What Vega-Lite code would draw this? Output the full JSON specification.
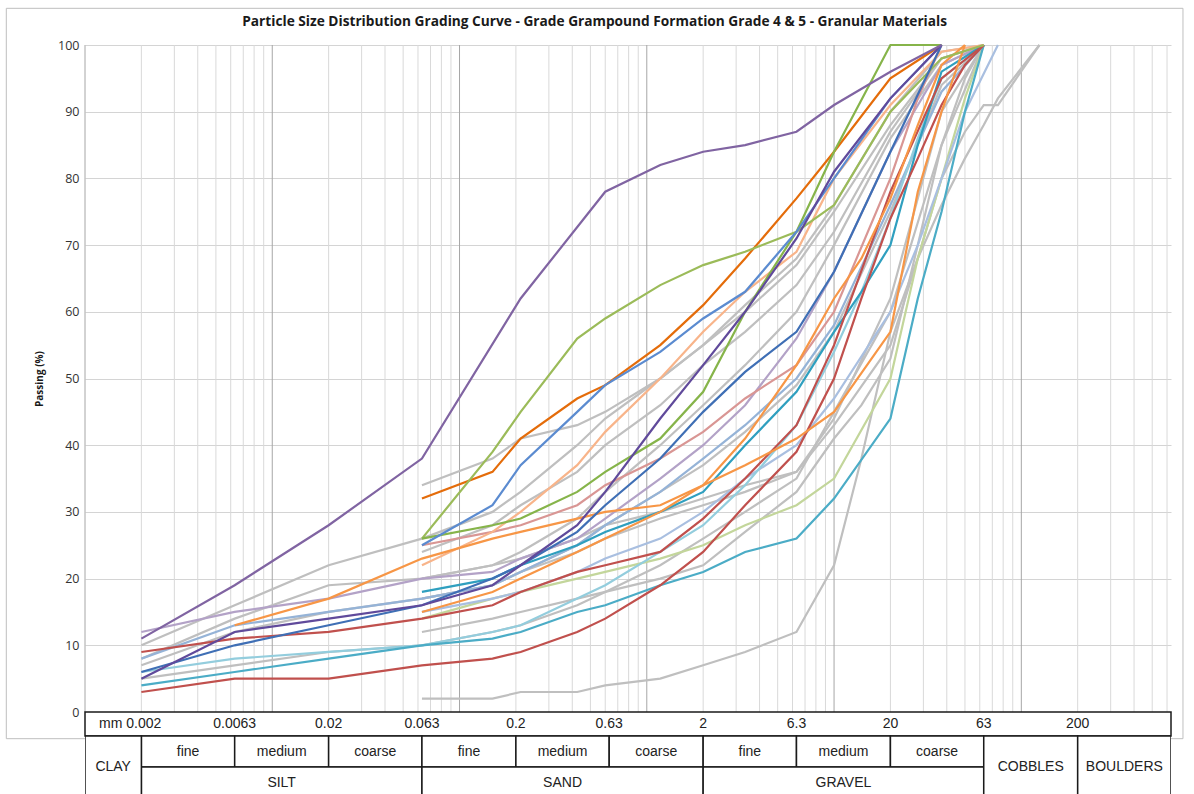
{
"$schema":"https://vega.github.io/schema/vega-lite/v6.json",
"padding":{"left":5,"top":7,"right":0,"bottom":0},
"bounds":"flush",
"spacing":0,
"config":{"view":{"stroke":null},"font":"Open Sans"},
"title":{"text":"Particle Size Distribution Grading Curve - Grade Grampound Formation Grade 4 & 5 - Granular Materials","font":"Open Sans","fontSize":13.7,"fontWeight":"bold","color":"#1a1a1a","anchor":"middle","offset":-21},
"datasets":{
"gridMajor":[{"v":0.001},{"v":0.01},{"v":0.1},{"v":1},{"v":10},{"v":100}],
"gridMinor":[{"v":0.002},{"v":0.003},{"v":0.004},{"v":0.005},{"v":0.006},{"v":0.007},{"v":0.008},{"v":0.009},{"v":0.02},{"v":0.03},{"v":0.04},{"v":0.05},{"v":0.06},{"v":0.07},{"v":0.08},{"v":0.09},{"v":0.2},{"v":0.3},{"v":0.4},{"v":0.5},{"v":0.6},{"v":0.7},{"v":0.8},{"v":0.9},{"v":2},{"v":3},{"v":4},{"v":5},{"v":6},{"v":7},{"v":8},{"v":9},{"v":20},{"v":30},{"v":40},{"v":50},{"v":60},{"v":70},{"v":80},{"v":90},{"v":200},{"v":300},{"v":400},{"v":500},{"v":600}],
"cells":[
{"lo":0.001,"hi":0.002,"lvl":"span","label":"CLAY"},
{"lo":0.002,"hi":0.0063,"lvl":"sub","label":"fine"},
{"lo":0.0063,"hi":0.02,"lvl":"sub","label":"medium"},
{"lo":0.02,"hi":0.063,"lvl":"sub","label":"coarse"},
{"lo":0.063,"hi":0.2,"lvl":"sub","label":"fine"},
{"lo":0.2,"hi":0.63,"lvl":"sub","label":"medium"},
{"lo":0.63,"hi":2,"lvl":"sub","label":"coarse"},
{"lo":2,"hi":6.3,"lvl":"sub","label":"fine"},
{"lo":6.3,"hi":20,"lvl":"sub","label":"medium"},
{"lo":20,"hi":63,"lvl":"sub","label":"coarse"},
{"lo":0.002,"hi":0.063,"lvl":"main","label":"SILT"},
{"lo":0.063,"hi":2,"lvl":"main","label":"SAND"},
{"lo":2,"hi":63,"lvl":"main","label":"GRAVEL"},
{"lo":63,"hi":200,"lvl":"span","label":"COBBLES"},
{"lo":200,"hi":630,"lvl":"span","label":"BOULDERS"}],
"ticks":[{"d":0.0063,"label":"0.0063"},{"d":0.02,"label":"0.02"},{"d":0.063,"label":"0.063"},{"d":0.2,"label":"0.2"},{"d":0.63,"label":"0.63"},{"d":2,"label":"2"},{"d":6.3,"label":"6.3"},{"d":20,"label":"20"},{"d":63,"label":"63"},{"d":200,"label":"200"}],
"psd":[
{"s":"S01","d":0.002,"p":10},{"s":"S01","d":0.0063,"p":16},{"s":"S01","d":0.02,"p":22},{"s":"S01","d":0.063,"p":26},{"s":"S01","d":0.15,"p":30},{"s":"S01","d":0.212,"p":33},{"s":"S01","d":0.425,"p":40},{"s":"S01","d":0.6,"p":44},{"s":"S01","d":1.18,"p":50},{"s":"S01","d":2,"p":55},{"s":"S01","d":3.35,"p":60},{"s":"S01","d":6.3,"p":67},{"s":"S01","d":10,"p":75},{"s":"S01","d":20,"p":88},{"s":"S01","d":37.5,"p":98},{"s":"S01","d":63,"p":100},
{"s":"S02","d":0.002,"p":8},{"s":"S02","d":0.0063,"p":14},{"s":"S02","d":0.02,"p":19},{"s":"S02","d":0.063,"p":20},{"s":"S02","d":0.15,"p":22},{"s":"S02","d":0.212,"p":24},{"s":"S02","d":0.425,"p":29},{"s":"S02","d":0.6,"p":33},{"s":"S02","d":1.18,"p":40},{"s":"S02","d":2,"p":46},{"s":"S02","d":3.35,"p":52},{"s":"S02","d":6.3,"p":60},{"s":"S02","d":10,"p":70},{"s":"S02","d":20,"p":86},{"s":"S02","d":37.5,"p":97},{"s":"S02","d":63,"p":100},
{"s":"S03","d":0.002,"p":7},{"s":"S03","d":0.0063,"p":12},{"s":"S03","d":0.02,"p":15},{"s":"S03","d":0.063,"p":17},{"s":"S03","d":0.15,"p":19},{"s":"S03","d":0.212,"p":21},{"s":"S03","d":0.425,"p":25},{"s":"S03","d":0.6,"p":28},{"s":"S03","d":1.18,"p":33},{"s":"S03","d":2,"p":37},{"s":"S03","d":3.35,"p":42},{"s":"S03","d":6.3,"p":49},{"s":"S03","d":10,"p":57},{"s":"S03","d":20,"p":75},{"s":"S03","d":37.5,"p":94},{"s":"S03","d":63,"p":100},
{"s":"S04","d":0.002,"p":5},{"s":"S04","d":0.0063,"p":7},{"s":"S04","d":0.02,"p":9},{"s":"S04","d":0.063,"p":10},{"s":"S04","d":0.15,"p":12},{"s":"S04","d":0.212,"p":13},{"s":"S04","d":0.425,"p":16},{"s":"S04","d":0.6,"p":18},{"s":"S04","d":1.18,"p":22},{"s":"S04","d":2,"p":26},{"s":"S04","d":3.35,"p":30},{"s":"S04","d":6.3,"p":35},{"s":"S04","d":10,"p":45},{"s":"S04","d":20,"p":60},{"s":"S04","d":37.5,"p":85},{"s":"S04","d":63,"p":100},
{"s":"S05","d":0.063,"p":34},{"s":"S05","d":0.15,"p":38},{"s":"S05","d":0.212,"p":41},{"s":"S05","d":0.425,"p":43},{"s":"S05","d":0.6,"p":45},{"s":"S05","d":1.18,"p":50},{"s":"S05","d":2,"p":55},{"s":"S05","d":3.35,"p":61},{"s":"S05","d":6.3,"p":68},{"s":"S05","d":10,"p":76},{"s":"S05","d":20,"p":90},{"s":"S05","d":37.5,"p":99},{"s":"S05","d":63,"p":100},
{"s":"S06","d":0.063,"p":24},{"s":"S06","d":0.15,"p":28},{"s":"S06","d":0.212,"p":31},{"s":"S06","d":0.425,"p":36},{"s":"S06","d":0.6,"p":40},{"s":"S06","d":1.18,"p":46},{"s":"S06","d":2,"p":52},{"s":"S06","d":3.35,"p":57},{"s":"S06","d":6.3,"p":64},{"s":"S06","d":10,"p":72},{"s":"S06","d":20,"p":87},{"s":"S06","d":37.5,"p":98},{"s":"S06","d":63,"p":100},
{"s":"S07","d":0.063,"p":12},{"s":"S07","d":0.15,"p":14},{"s":"S07","d":0.212,"p":15},{"s":"S07","d":0.425,"p":17},{"s":"S07","d":0.6,"p":18},{"s":"S07","d":1.18,"p":20},{"s":"S07","d":2,"p":22},{"s":"S07","d":3.35,"p":27},{"s":"S07","d":6.3,"p":33},{"s":"S07","d":10,"p":41},{"s":"S07","d":14,"p":46},{"s":"S07","d":20,"p":53},{"s":"S07","d":28,"p":70},{"s":"S07","d":37.5,"p":85},{"s":"S07","d":50,"p":95},{"s":"S07","d":63,"p":100},
{"s":"S08","d":0.063,"p":17},{"s":"S08","d":0.15,"p":19},{"s":"S08","d":0.212,"p":21},{"s":"S08","d":0.425,"p":24},{"s":"S08","d":0.6,"p":26},{"s":"S08","d":1.18,"p":29},{"s":"S08","d":2,"p":31},{"s":"S08","d":3.35,"p":33},{"s":"S08","d":6.3,"p":36},{"s":"S08","d":10,"p":44},{"s":"S08","d":20,"p":62},{"s":"S08","d":37.5,"p":90},{"s":"S08","d":63,"p":100},
{"s":"S09","d":0.063,"p":2},{"s":"S09","d":0.15,"p":2},{"s":"S09","d":0.212,"p":3},{"s":"S09","d":0.425,"p":3},{"s":"S09","d":0.6,"p":4},{"s":"S09","d":1.18,"p":5},{"s":"S09","d":2,"p":7},{"s":"S09","d":3.35,"p":9},{"s":"S09","d":6.3,"p":12},{"s":"S09","d":10,"p":22},{"s":"S09","d":14,"p":38},{"s":"S09","d":20,"p":57},{"s":"S09","d":28,"p":68},{"s":"S09","d":37.5,"p":76},{"s":"S09","d":50,"p":83},{"s":"S09","d":63,"p":88},{"s":"S09","d":75,"p":92},{"s":"S09","d":125,"p":100},
{"s":"S10","d":0.063,"p":20},{"s":"S10","d":0.15,"p":22},{"s":"S10","d":0.212,"p":23},{"s":"S10","d":0.425,"p":26},{"s":"S10","d":0.6,"p":28},{"s":"S10","d":1.18,"p":30},{"s":"S10","d":2,"p":32},{"s":"S10","d":3.35,"p":34},{"s":"S10","d":6.3,"p":36},{"s":"S10","d":10,"p":43},{"s":"S10","d":20,"p":55},{"s":"S10","d":28,"p":68},{"s":"S10","d":37.5,"p":80},{"s":"S10","d":50,"p":87},{"s":"S10","d":63,"p":91},{"s":"S10","d":75,"p":91},{"s":"S10","d":125,"p":100},
{"s":"S11","d":0.063,"p":14},{"s":"S11","d":0.15,"p":17},{"s":"S11","d":0.212,"p":18},{"s":"S11","d":0.425,"p":20},{"s":"S11","d":0.6,"p":21},{"s":"S11","d":1.18,"p":23},{"s":"S11","d":2,"p":25},{"s":"S11","d":3.35,"p":28},{"s":"S11","d":6.3,"p":31},{"s":"S11","d":10,"p":35},{"s":"S11","d":20,"p":50},{"s":"S11","d":28,"p":68},{"s":"S11","d":37.5,"p":80},{"s":"S11","d":50,"p":92},{"s":"S11","d":63,"p":100},
{"s":"S12","d":0.063,"p":15},{"s":"S12","d":0.15,"p":17},{"s":"S12","d":0.212,"p":18},{"s":"S12","d":0.425,"p":21},{"s":"S12","d":0.6,"p":23},{"s":"S12","d":1.18,"p":26},{"s":"S12","d":2,"p":30},{"s":"S12","d":3.35,"p":35},{"s":"S12","d":6.3,"p":40},{"s":"S12","d":10,"p":47},{"s":"S12","d":20,"p":60},{"s":"S12","d":28,"p":70},{"s":"S12","d":37.5,"p":80},{"s":"S12","d":50,"p":90},{"s":"S12","d":75,"p":100},
{"s":"S13","d":0.002,"p":8},{"s":"S13","d":0.0063,"p":13},{"s":"S13","d":0.02,"p":15},{"s":"S13","d":0.063,"p":17},{"s":"S13","d":0.15,"p":19},{"s":"S13","d":0.212,"p":21},{"s":"S13","d":0.425,"p":25},{"s":"S13","d":0.6,"p":28},{"s":"S13","d":1.18,"p":33},{"s":"S13","d":2,"p":38},{"s":"S13","d":3.35,"p":43},{"s":"S13","d":6.3,"p":50},{"s":"S13","d":10,"p":58},{"s":"S13","d":20,"p":76},{"s":"S13","d":37.5,"p":93},{"s":"S13","d":63,"p":100},
{"s":"S14","d":0.002,"p":12},{"s":"S14","d":0.0063,"p":15},{"s":"S14","d":0.02,"p":17},{"s":"S14","d":0.063,"p":20},{"s":"S14","d":0.15,"p":21},{"s":"S14","d":0.212,"p":23},{"s":"S14","d":0.425,"p":26},{"s":"S14","d":0.6,"p":29},{"s":"S14","d":1.18,"p":35},{"s":"S14","d":2,"p":40},{"s":"S14","d":3.35,"p":46},{"s":"S14","d":6.3,"p":56},{"s":"S14","d":10,"p":66},{"s":"S14","d":20,"p":84},{"s":"S14","d":37.5,"p":97},{"s":"S14","d":63,"p":100},
{"s":"S15","d":0.063,"p":25},{"s":"S15","d":0.15,"p":27},{"s":"S15","d":0.212,"p":28},{"s":"S15","d":0.425,"p":31},{"s":"S15","d":0.6,"p":34},{"s":"S15","d":1.18,"p":38},{"s":"S15","d":2,"p":42},{"s":"S15","d":3.35,"p":47},{"s":"S15","d":6.3,"p":52},{"s":"S15","d":10,"p":60},{"s":"S15","d":20,"p":80},{"s":"S15","d":28,"p":92},{"s":"S15","d":37.5,"p":100},
{"s":"S16","d":0.002,"p":6},{"s":"S16","d":0.0063,"p":8},{"s":"S16","d":0.02,"p":9},{"s":"S16","d":0.063,"p":10},{"s":"S16","d":0.15,"p":12},{"s":"S16","d":0.212,"p":13},{"s":"S16","d":0.425,"p":17},{"s":"S16","d":0.6,"p":19},{"s":"S16","d":1.18,"p":24},{"s":"S16","d":2,"p":28},{"s":"S16","d":3.35,"p":34},{"s":"S16","d":6.3,"p":43},{"s":"S16","d":10,"p":54},{"s":"S16","d":14,"p":63},{"s":"S16","d":20,"p":74},{"s":"S16","d":28,"p":86},{"s":"S16","d":37.5,"p":95},{"s":"S16","d":63,"p":100},
{"s":"S17","d":0.002,"p":4},{"s":"S17","d":0.0063,"p":6},{"s":"S17","d":0.02,"p":8},{"s":"S17","d":0.063,"p":10},{"s":"S17","d":0.15,"p":11},{"s":"S17","d":0.212,"p":12},{"s":"S17","d":0.425,"p":15},{"s":"S17","d":0.6,"p":16},{"s":"S17","d":1.18,"p":19},{"s":"S17","d":2,"p":21},{"s":"S17","d":3.35,"p":24},{"s":"S17","d":6.3,"p":26},{"s":"S17","d":10,"p":32},{"s":"S17","d":20,"p":44},{"s":"S17","d":28,"p":62},{"s":"S17","d":37.5,"p":75},{"s":"S17","d":50,"p":90},{"s":"S17","d":63,"p":100},
{"s":"S18","d":0.063,"p":18},{"s":"S18","d":0.15,"p":20},{"s":"S18","d":0.212,"p":22},{"s":"S18","d":0.425,"p":25},{"s":"S18","d":0.6,"p":27},{"s":"S18","d":1.18,"p":30},{"s":"S18","d":2,"p":33},{"s":"S18","d":3.35,"p":40},{"s":"S18","d":6.3,"p":48},{"s":"S18","d":10,"p":57},{"s":"S18","d":14,"p":63},{"s":"S18","d":20,"p":70},{"s":"S18","d":28,"p":85},{"s":"S18","d":37.5,"p":96},{"s":"S18","d":63,"p":100},
{"s":"S19","d":0.002,"p":3},{"s":"S19","d":0.0063,"p":5},{"s":"S19","d":0.02,"p":5},{"s":"S19","d":0.063,"p":7},{"s":"S19","d":0.15,"p":8},{"s":"S19","d":0.212,"p":9},{"s":"S19","d":0.425,"p":12},{"s":"S19","d":0.6,"p":14},{"s":"S19","d":1.18,"p":19},{"s":"S19","d":2,"p":24},{"s":"S19","d":3.35,"p":31},{"s":"S19","d":6.3,"p":39},{"s":"S19","d":10,"p":50},{"s":"S19","d":14,"p":62},{"s":"S19","d":20,"p":74},{"s":"S19","d":28,"p":83},{"s":"S19","d":37.5,"p":91},{"s":"S19","d":50,"p":97},{"s":"S19","d":63,"p":100},
{"s":"S20","d":0.002,"p":9},{"s":"S20","d":0.0063,"p":11},{"s":"S20","d":0.02,"p":12},{"s":"S20","d":0.063,"p":14},{"s":"S20","d":0.15,"p":16},{"s":"S20","d":0.212,"p":18},{"s":"S20","d":0.425,"p":21},{"s":"S20","d":0.6,"p":22},{"s":"S20","d":1.18,"p":24},{"s":"S20","d":2,"p":29},{"s":"S20","d":3.35,"p":35},{"s":"S20","d":6.3,"p":43},{"s":"S20","d":10,"p":55},{"s":"S20","d":20,"p":78},{"s":"S20","d":37.5,"p":95},{"s":"S20","d":63,"p":100},
{"s":"S21","d":0.063,"p":22},{"s":"S21","d":0.15,"p":27},{"s":"S21","d":0.212,"p":30},{"s":"S21","d":0.425,"p":37},{"s":"S21","d":0.6,"p":42},{"s":"S21","d":1.18,"p":50},{"s":"S21","d":2,"p":57},{"s":"S21","d":3.35,"p":63},{"s":"S21","d":6.3,"p":69},{"s":"S21","d":10,"p":80},{"s":"S21","d":20,"p":91},{"s":"S21","d":37.5,"p":99},{"s":"S21","d":63,"p":100},
{"s":"S22","d":0.0063,"p":13},{"s":"S22","d":0.02,"p":17},{"s":"S22","d":0.063,"p":23},{"s":"S22","d":0.15,"p":26},{"s":"S22","d":0.212,"p":27},{"s":"S22","d":0.425,"p":29},{"s":"S22","d":0.6,"p":30},{"s":"S22","d":1.18,"p":31},{"s":"S22","d":2,"p":34},{"s":"S22","d":3.35,"p":37},{"s":"S22","d":6.3,"p":41},{"s":"S22","d":10,"p":45},{"s":"S22","d":20,"p":57},{"s":"S22","d":28,"p":78},{"s":"S22","d":37.5,"p":90},{"s":"S22","d":50,"p":100},
{"s":"S23","d":0.063,"p":15},{"s":"S23","d":0.15,"p":18},{"s":"S23","d":0.212,"p":20},{"s":"S23","d":0.425,"p":24},{"s":"S23","d":0.6,"p":26},{"s":"S23","d":1.18,"p":30},{"s":"S23","d":2,"p":34},{"s":"S23","d":3.35,"p":41},{"s":"S23","d":6.3,"p":52},{"s":"S23","d":10,"p":62},{"s":"S23","d":14,"p":68},{"s":"S23","d":20,"p":77},{"s":"S23","d":28,"p":88},{"s":"S23","d":37.5,"p":97},{"s":"S23","d":50,"p":100},
{"s":"S24","d":0.063,"p":32},{"s":"S24","d":0.15,"p":36},{"s":"S24","d":0.212,"p":41},{"s":"S24","d":0.425,"p":47},{"s":"S24","d":0.6,"p":49},{"s":"S24","d":1.18,"p":55},{"s":"S24","d":2,"p":61},{"s":"S24","d":3.35,"p":68},{"s":"S24","d":6.3,"p":77},{"s":"S24","d":10,"p":84},{"s":"S24","d":20,"p":95},{"s":"S24","d":37.5,"p":100},
{"s":"S25","d":0.063,"p":26},{"s":"S25","d":0.15,"p":39},{"s":"S25","d":0.212,"p":45},{"s":"S25","d":0.425,"p":56},{"s":"S25","d":0.6,"p":59},{"s":"S25","d":1.18,"p":64},{"s":"S25","d":2,"p":67},{"s":"S25","d":3.35,"p":69},{"s":"S25","d":6.3,"p":72},{"s":"S25","d":10,"p":76},{"s":"S25","d":20,"p":90},{"s":"S25","d":37.5,"p":98},{"s":"S25","d":63,"p":100},
{"s":"S26","d":0.063,"p":26},{"s":"S26","d":0.15,"p":28},{"s":"S26","d":0.212,"p":29},{"s":"S26","d":0.425,"p":33},{"s":"S26","d":0.6,"p":36},{"s":"S26","d":1.18,"p":41},{"s":"S26","d":2,"p":48},{"s":"S26","d":3.35,"p":60},{"s":"S26","d":6.3,"p":72},{"s":"S26","d":10,"p":84},{"s":"S26","d":20,"p":100},{"s":"S26","d":37.5,"p":100},
{"s":"S27","d":0.002,"p":6},{"s":"S27","d":0.0063,"p":10},{"s":"S27","d":0.02,"p":13},{"s":"S27","d":0.063,"p":16},{"s":"S27","d":0.15,"p":20},{"s":"S27","d":0.212,"p":22},{"s":"S27","d":0.425,"p":27},{"s":"S27","d":0.6,"p":31},{"s":"S27","d":1.18,"p":38},{"s":"S27","d":2,"p":45},{"s":"S27","d":3.35,"p":51},{"s":"S27","d":6.3,"p":57},{"s":"S27","d":10,"p":66},{"s":"S27","d":20,"p":84},{"s":"S27","d":37.5,"p":100},
{"s":"S28","d":0.063,"p":25},{"s":"S28","d":0.15,"p":31},{"s":"S28","d":0.212,"p":37},{"s":"S28","d":0.425,"p":45},{"s":"S28","d":0.6,"p":49},{"s":"S28","d":1.18,"p":54},{"s":"S28","d":2,"p":59},{"s":"S28","d":3.35,"p":63},{"s":"S28","d":6.3,"p":72},{"s":"S28","d":10,"p":80},{"s":"S28","d":20,"p":92},{"s":"S28","d":37.5,"p":100},
{"s":"S29","d":0.002,"p":5},{"s":"S29","d":0.0063,"p":12},{"s":"S29","d":0.02,"p":14},{"s":"S29","d":0.063,"p":16},{"s":"S29","d":0.15,"p":19},{"s":"S29","d":0.212,"p":22},{"s":"S29","d":0.425,"p":28},{"s":"S29","d":0.6,"p":33},{"s":"S29","d":1.18,"p":44},{"s":"S29","d":2,"p":52},{"s":"S29","d":3.35,"p":60},{"s":"S29","d":6.3,"p":71},{"s":"S29","d":10,"p":81},{"s":"S29","d":20,"p":92},{"s":"S29","d":37.5,"p":100},
{"s":"S30","d":0.002,"p":11},{"s":"S30","d":0.0063,"p":19},{"s":"S30","d":0.02,"p":28},{"s":"S30","d":0.063,"p":38},{"s":"S30","d":0.212,"p":62},{"s":"S30","d":0.6,"p":78},{"s":"S30","d":1.18,"p":82},{"s":"S30","d":2,"p":84},{"s":"S30","d":3.35,"p":85},{"s":"S30","d":6.3,"p":87},{"s":"S30","d":10,"p":91},{"s":"S30","d":20,"p":96},{"s":"S30","d":37.5,"p":100}
]},
"vconcat":[
{"width":1086,"height":667,
"layer":[
{"data":{"values":[{}]},"mark":{"type":"rect","fill":null,"stroke":"#BFBFBF","strokeWidth":1,"clip":false},
 "encoding":{"x":{"datum":0.00038,"type":"quantitative","scale":{"type":"log","domain":[0.001,630],"nice":false},"axis":null},"x2":{"datum":730},"y":{"datum":105.5,"type":"quantitative"},"y2":{"datum":-4}}},
{"data":{"name":"gridMinor"},"mark":{"type":"rule","stroke":"#D9D9D9","strokeWidth":1},"encoding":{"x":{"field":"v","type":"quantitative"}}},
{"data":{"name":"gridMajor"},"mark":{"type":"rule","stroke":"#A6A6A6","strokeWidth":1},"encoding":{"x":{"field":"v","type":"quantitative"}}},
{"data":{"name":"psd"},"mark":{"type":"line","strokeWidth":2.2},
 "encoding":{"x":{"field":"d","type":"quantitative"},
  "y":{"field":"p","type":"quantitative","scale":{"domain":[0,100],"nice":false,"zero":false},
   "axis":{"values":[0,10,20,30,40,50,60,70,80,90,100],"grid":true,"gridColor":"#D4D4D4","domain":false,"ticks":false,"labelFontSize":12.5,"labelFont":"Open Sans","labelColor":"#333333","labelPadding":6,"title":"Passing (%)","titleFontSize":10,"titleFont":"Open Sans","titleFontWeight":"bold","titleColor":"#1a1a1a","titlePadding":13}},
  "color":{"field":"s","type":"nominal","legend":null,
   "scale":{"domain":["S01","S02","S03","S04","S05","S06","S07","S08","S09","S10","S11","S12","S13","S14","S15","S16","S17","S18","S19","S20","S21","S22","S23","S24","S25","S26","S27","S28","S29","S30"],
   "range":["#BFBFBF","#BFBFBF","#BFBFBF","#BFBFBF","#BFBFBF","#BFBFBF","#BFBFBF","#BFBFBF","#BFBFBF","#BFBFBF","#C3D69B","#A9BFE0","#95B3D7","#B3A2C7","#D99694","#93CDDD","#4BACC6","#2F9FBF","#C0504D","#C0504D","#F8B48A","#F79646","#F79646","#E46C0A","#9BBB59","#86B44A","#3F6FB5","#5B8BD0","#604A9B","#8064A2"]}}}}
]},
{"width":1086,"height":83,
"layer":[
{"data":{"values":[{}]},"mark":{"type":"rect","fill":"white","stroke":"#1a1a1a","strokeWidth":1.5},
 "encoding":{"x":{"datum":0.001,"type":"quantitative","scale":{"type":"log","domain":[0.001,630],"nice":false},"axis":null},"x2":{"datum":630},"y":{"datum":0,"type":"quantitative","scale":{"domain":[0,83],"reverse":true,"nice":false,"zero":false},"axis":null},"y2":{"datum":24}}},
{"data":{"name":"cells"},"transform":[{"filter":"datum.lvl == 'sub'"}],"mark":{"type":"rect","fill":"white","stroke":"#1a1a1a","strokeWidth":1.5,"clip":true},
 "encoding":{"x":{"field":"lo","type":"quantitative"},"x2":{"field":"hi"},"y":{"datum":24,"type":"quantitative"},"y2":{"datum":55}}},
{"data":{"name":"cells"},"transform":[{"filter":"datum.lvl != 'sub'"}],"mark":{"type":"rect","fill":"white","stroke":"#1a1a1a","strokeWidth":1.5,"clip":true},
 "encoding":{"x":{"field":"lo","type":"quantitative"},"x2":{"field":"hi"},"y":{"datum":55,"type":"quantitative"},"y2":{"datum":95}}},
{"data":{"name":"cells"},"transform":[{"filter":"datum.lvl == 'span'"}],"mark":{"type":"rect","fill":"white","stroke":"#1a1a1a","strokeWidth":1.5,"clip":true},
 "encoding":{"x":{"field":"lo","type":"quantitative"},"x2":{"field":"hi"},"y":{"datum":24,"type":"quantitative"},"y2":{"datum":95}}},
{"data":{"name":"cells"},"transform":[{"filter":"datum.lvl == 'sub'"},{"calculate":"sqrt(datum.lo*datum.hi)","as":"mid"}],"mark":{"type":"text","font":"Liberation Sans","fontSize":14,"color":"#222222","baseline":"middle"},
 "encoding":{"x":{"field":"mid","type":"quantitative"},"y":{"datum":39.5,"type":"quantitative"},"text":{"field":"label"}}},
{"data":{"name":"cells"},"transform":[{"filter":"datum.lvl == 'main'"},{"calculate":"sqrt(datum.lo*datum.hi)","as":"mid"}],"mark":{"type":"text","font":"Liberation Sans","fontSize":14,"color":"#222222","baseline":"middle"},
 "encoding":{"x":{"field":"mid","type":"quantitative"},"y":{"datum":71,"type":"quantitative"},"text":{"field":"label"}}},
{"data":{"name":"cells"},"transform":[{"filter":"datum.lvl == 'span'"},{"calculate":"sqrt(datum.lo*datum.hi)","as":"mid"}],"mark":{"type":"text","font":"Liberation Sans","fontSize":14,"color":"#222222","baseline":"middle"},
 "encoding":{"x":{"field":"mid","type":"quantitative"},"y":{"datum":55,"type":"quantitative"},"text":{"field":"label"}}},
{"data":{"name":"ticks"},"mark":{"type":"text","font":"Liberation Sans","fontSize":14,"color":"#222222","baseline":"middle"},
 "encoding":{"x":{"field":"d","type":"quantitative"},"y":{"datum":12,"type":"quantitative"},"text":{"field":"label"}}},
{"data":{"values":[{}]},"mark":{"type":"text","font":"Liberation Sans","fontSize":14,"color":"#222222","baseline":"middle","align":"right","dx":20},
 "encoding":{"x":{"datum":0.002,"type":"quantitative"},"y":{"datum":12,"type":"quantitative"},"text":{"value":"mm 0.002"}}}
]}
]
}
